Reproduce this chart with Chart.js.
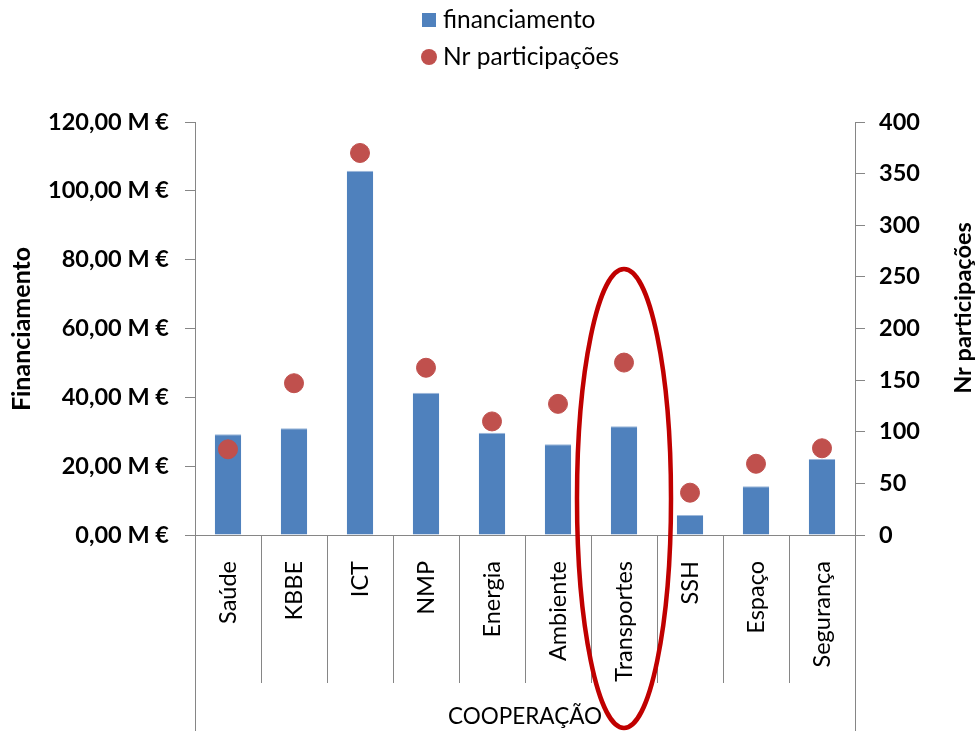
<!DOCTYPE html>
<html><head><meta charset="utf-8">
<script src="https://cdn.jsdelivr.net/npm/chart.js@4.4.1/dist/chart.umd.min.js"></script>
<style>html,body{margin:0;padding:0;background:#fff;}#wrap{width:977px;height:731px;}</style>
</head><body><div id="wrap"><canvas id="c" width="977" height="731"></canvas></div>
<script>
const categories = ["Saúde","KBBE","ICT","NMP","Energia","Ambiente","Transportes","SSH","Espaço","Segurança"];
const financiamento = [29.3, 31.0, 105.8, 41.3, 29.7, 26.4, 31.6, 5.8, 14.2, 22.1];
const participacoes = [83, 147, 370, 162, 110, 127, 167, 41, 69, 84];
const leftTicks = [0, 20, 40, 60, 80, 100, 120];
const rightTicks = [0, 50, 100, 150, 200, 250, 300, 350, 400];
const groupLabel = "COOPERAÇÃO";
const highlighted = "Transportes";
const seriesNames = ["financiamento", "Nr participações"];
const axisTitles = ["Financiamento", "Nr participações"];

const FONT = "Lato, 'Open Sans', sans-serif";
const BLUE = "#4F81BD", RED = "#C0504D", AXIS = "#868686";

const extras = {
  id: 'extras',
  afterDraw(chart) {
    const ctx = chart.ctx, x = chart.scales.x, ca = chart.chartArea;
    ctx.save();
    // category separators
    ctx.strokeStyle = AXIS; ctx.lineWidth = 1;
    const n = categories.length;
    for (let i = 0; i <= n; i++) {
      let px;
      if (i === 0) px = ca.left; else if (i === n) px = ca.right;
      else px = (x.getPixelForValue(i - 1) + x.getPixelForValue(i)) / 2;
      px = Math.round(px) + 0.5;
      ctx.beginPath(); ctx.moveTo(px, ca.bottom);
      ctx.lineTo(px, (i === 0 || i === n) ? chart.height : ca.bottom + 148);
      ctx.stroke();
    }
    // group label
    ctx.fillStyle = "#000"; ctx.font = "22.5px " + FONT;
    ctx.textAlign = "center"; ctx.textBaseline = "middle";
    ctx.fillText(groupLabel, (ca.left + ca.right) / 2, 717);
    // axis titles
    ctx.font = "bold 25px " + FONT;
    ctx.save(); ctx.translate(22, 329); ctx.rotate(-Math.PI / 2);
    ctx.fillText(axisTitles[0], 0, 0); ctx.restore();
    ctx.font = "bold 23.5px " + FONT;
    ctx.save(); ctx.translate(963, 308); ctx.rotate(-Math.PI / 2);
    ctx.fillText(axisTitles[1], 0, 0); ctx.restore();
    // legend
    ctx.font = "24.5px " + FONT; ctx.textAlign = "left";
    ctx.fillStyle = BLUE; ctx.fillRect(422, 13, 14, 14);
    ctx.fillStyle = "#000"; ctx.fillText(seriesNames[0], 443, 20);
    ctx.fillStyle = RED; ctx.beginPath(); ctx.arc(429, 57, 8, 0, Math.PI * 2); ctx.fill();
    ctx.fillStyle = "#000"; ctx.fillText(seriesNames[1], 443, 57);
    // highlight ellipse
    const cx = x.getPixelForValue(categories.indexOf(highlighted));
    ctx.strokeStyle = "#C00000"; ctx.lineWidth = 4.5;
    ctx.beginPath(); ctx.ellipse(cx, 498.5, 47, 229.5, 0, 0, Math.PI * 2); ctx.stroke();
    ctx.restore();
  }
};

new Chart(document.getElementById('c'), {
  type: 'bar',
  data: {
    labels: categories,
    datasets: [
      { type: 'line', label: seriesNames[1], data: participacoes, yAxisID: 'y1', showLine: false,
        pointRadius: 9.5, pointHoverRadius: 9.5, pointBackgroundColor: RED, pointBorderColor: RED, borderColor: RED, order: 0 },
      { type: 'bar', label: seriesNames[0], data: financiamento, yAxisID: 'y', backgroundColor: BLUE,
        borderColor: '#9DB8DA', borderWidth: {top: 1, left: 0, right: 0, bottom: 0},
        barPercentage: 0.4, categoryPercentage: 1, order: 1 }
    ]
  },
  options: {
    responsive: false, animation: false, devicePixelRatio: 1,
    layout: { padding: { top: 122, left: 0, right: 0, bottom: 0 } },
    plugins: { legend: { display: false }, tooltip: { enabled: false } },
    scales: {
      x: {
        offset: true,
        grid: { display: false },
        border: { display: true, color: AXIS, width: 1 },
        ticks: { minRotation: 90, maxRotation: 90, padding: 18, color: '#000', font: { family: FONT, size: 23.5 }, autoSkip: false },
        afterFit(s) { s.height = 196; }
      },
      y: {
        position: 'left', min: 0, max: 120,
        afterBuildTicks(s) { s.ticks = leftTicks.map(v => ({ value: v })); },
        grid: { drawOnChartArea: false, tickLength: 10, color: AXIS },
        border: { color: AXIS, width: 1 },
        ticks: { padding: 16, color: '#000', font: { family: FONT, size: 23.5, weight: 'bold' },
          callback: v => v.toFixed(2).replace('.', ',') + ' M €' },
        afterFit(s) { s.width = 195; }
      },
      y1: {
        position: 'right', min: 0, max: 400,
        afterBuildTicks(s) { s.ticks = rightTicks.map(v => ({ value: v })); },
        grid: { drawOnChartArea: false, tickLength: 10, color: AXIS },
        border: { color: AXIS, width: 1 },
        ticks: { padding: 14, color: '#000', font: { family: FONT, size: 23.5, weight: 'bold' } },
        afterFit(s) { s.width = 122; }
      }
    }
  },
  plugins: [extras]
});
</script>
</body></html>
